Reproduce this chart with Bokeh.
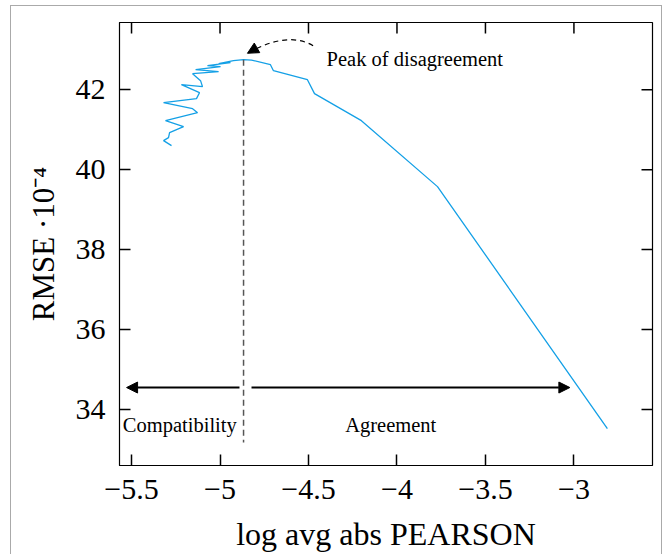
import math
from bokeh.plotting import figure
from bokeh.models import Range1d, Arrow, NormalHead, Label, FixedTicker
from bokeh.embed import file_html
from bokeh.resources import INLINE

# ---- data ----
pearson_log = [-5.274, -5.319, -5.291, -5.285, -5.206, -5.308, -5.127, -5.155, -5.319,
               -5.133, -5.116, -5.218, -5.099, -5.110, -5.155, -5.008, -5.138, -4.997,
               -5.071, -4.941, -5.008, -4.924, -4.867, -4.822, -4.715, -4.698, -4.506,
               -4.466, -4.201, -3.771, -2.811]
rmse = [40.60, 40.725, 40.80, 40.925, 41.075, 41.225, 41.425, 41.525, 41.675,
        41.775, 41.925, 42.125, 42.075, 42.225, 42.40, 42.45, 42.50, 42.575,
        42.60, 42.675, 42.65, 42.725, 42.75, 42.74, 42.625, 42.475, 42.25,
        41.90, 41.225, 39.575, 33.525]
x_ticks = [-5.5, -5.0, -4.5, -4.0, -3.5, -3.0]
x_tick_labels = ["\u22125.5", "\u22125", "\u22124.5", "\u22124", "\u22123.5", "\u22123"]
y_ticks = [34, 36, 38, 40, 42]
y_tick_labels = ["34", "36", "38", "40", "42"]
peak_x = -4.867
peak_y = 42.75

X_MIN, X_MAX = -5.568, -2.556
Y_MIN, Y_MAX = 32.6, 43.68
SERIF = "Liberation Serif"

p = figure(frame_width=533, frame_height=443,
           x_range=Range1d(X_MIN, X_MAX), y_range=Range1d(Y_MIN, Y_MAX),
           output_backend="svg", toolbar_location=None,
           min_border_left=108, min_border_right=9, min_border_top=16, min_border_bottom=89,
           x_axis_label="log avg abs PEARSON",
           y_axis_label="RMSE \u00b710\u207b\u2074",
           margin=(5, 0, 0, 10))
p.styles = {"border": "1px solid #aaaaaa"}
p.grid.visible = False
p.outline_line_color = "black"
p.outline_line_width = 1.2

for ax, ticks, labels in ((p.xaxis[0], x_ticks, x_tick_labels), (p.yaxis[0], y_ticks, y_tick_labels)):
    ax.ticker = FixedTicker(ticks=ticks)
    ax.major_label_overrides = dict(zip(ticks, labels))
    ax.major_tick_in = 11
    ax.major_tick_out = 0
    ax.minor_tick_in = 0
    ax.minor_tick_out = 0
    ax.major_tick_line_width = 1.5
    ax.axis_line_color = "black"
    ax.major_label_text_font = SERIF
    ax.major_label_text_font_size = "30px"
    ax.major_label_text_color = "black"
    ax.major_label_standoff = 14
    ax.axis_label_text_font = SERIF
    ax.axis_label_text_font_style = "normal"
    ax.axis_label_text_color = "black"

p.xaxis[0].axis_label_text_font_size = "32px"
p.xaxis[0].axis_label_standoff = 14
p.yaxis[0].axis_label_text_font_size = "31px"
p.yaxis[0].axis_label_standoff = 12

# ticks on the top and right edges
p.ray(x=x_ticks, y=[Y_MAX] * len(x_ticks), length=11, angle=-math.pi / 2,
      length_units="screen", line_color="black", line_width=1.5)
p.ray(x=[X_MAX] * len(y_ticks), y=y_ticks, length=11, angle=math.pi,
      length_units="screen", line_color="black", line_width=1.5)

# curve
p.line(pearson_log, rmse, line_color="#14a0e6", line_width=1.3)

# dashed vertical at peak
p.segment(x0=[peak_x], y0=[peak_y], x1=[peak_x], y1=[33.175],
          line_color="#555555", line_width=1.5, line_dash="6 4")

# curved dashed arrow to the peak
arc_start = (-4.474, 43.10)
arc_ctrl = (-4.62, 43.475)
arc_end = (-4.845, 42.91)
p.quadratic(x0=[arc_start[0]], y0=[arc_start[1]], x1=[arc_end[0]], y1=[arc_end[1]],
            cx=[arc_ctrl[0]], cy=[arc_ctrl[1]], line_color="black", line_width=1.2,
            line_dash="5 4")
dx = arc_end[0] - arc_ctrl[0]
dy = arc_end[1] - arc_ctrl[1]
p.add_layout(Arrow(end=NormalHead(size=11, fill_color="black", line_color="black"),
                   x_start=arc_end[0] - 0.1 * dx, y_start=arc_end[1] - 0.1 * dy,
                   x_end=arc_end[0], y_end=arc_end[1], line_alpha=0))

# horizontal arrows
arrow_y = 34.55
p.add_layout(Arrow(end=NormalHead(size=11, fill_color="black", line_color="black"),
                   x_start=-4.89, y_start=arrow_y, x_end=-5.528, y_end=arrow_y,
                   line_color="black", line_width=2))
p.add_layout(Arrow(end=NormalHead(size=11, fill_color="black", line_color="black"),
                   x_start=-4.822, y_start=arrow_y, x_end=-3.023, y_end=arrow_y,
                   line_color="black", line_width=2))

# labels
p.add_layout(Label(x=-4.398, y=42.77, text="Peak of disagreement", text_font=SERIF,
                   text_font_size="20.5px", text_baseline="middle", text_align="left",
                   text_color="black"))
p.add_layout(Label(x=-5.549, y=33.62, text="Compatibility", text_font=SERIF,
                   text_font_size="20.5px", text_baseline="middle", text_align="left",
                   text_color="black"))
p.add_layout(Label(x=-4.035, y=33.62, text="Agreement", text_font=SERIF,
                   text_font_size="20.5px", text_baseline="middle", text_align="center",
                   text_color="black"))

open("out.html", "w").write(file_html(p, INLINE))
